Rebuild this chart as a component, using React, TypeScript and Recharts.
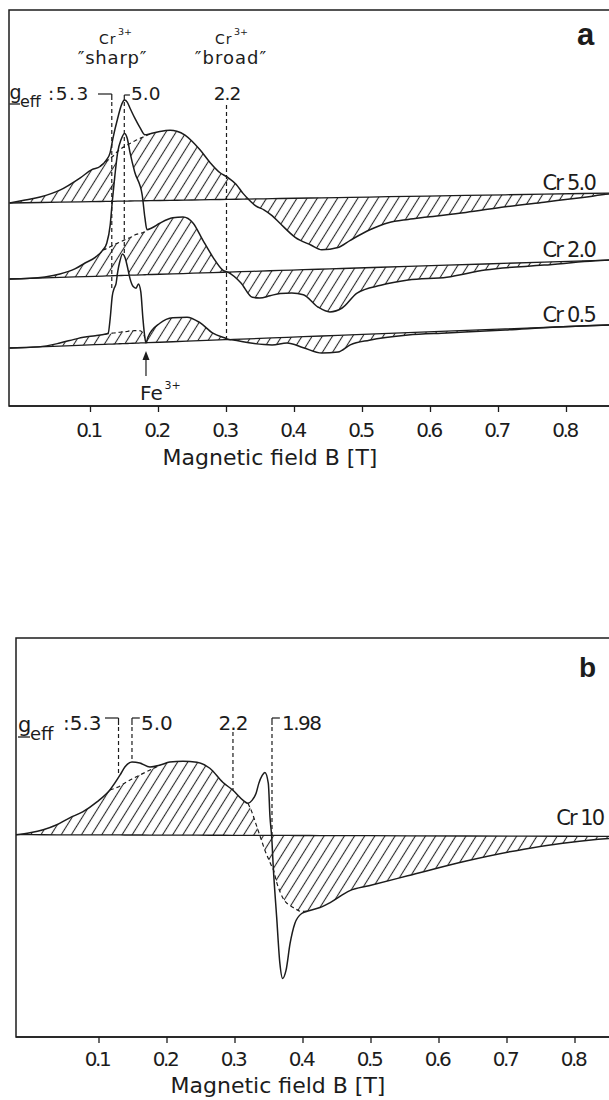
import React from 'react';
import {
  ComposedChart, Area, Line, XAxis, YAxis, ReferenceLine, ReferenceArea, ReferenceDot,
} from 'recharts';

// ---------- axis ----------
const fieldTicks = [0.1, 0.2, 0.3, 0.4, 0.5, 0.6, 0.7, 0.8];
const fieldTickLabels = ['0.1', '0.2', '0.3', '0.4', '0.5', '0.6', '0.7', '0.8'];

// ---------- panel a : Cr 5.0 ----------
const cr50Field = [-0.019, 0.004, 0.026, 0.055, 0.085, 0.102, 0.114, 0.123, 0.129, 0.133, 0.140, 0.146, 0.150, 0.154, 0.158, 0.165, 0.173, 0.180, 0.188, 0.202, 0.217, 0.227, 0.239, 0.249, 0.261, 0.276, 0.290, 0.302, 0.314, 0.324, 0.332, 0.343, 0.355, 0.367, 0.379, 0.401, 0.424, 0.440, 0.464, 0.482, 0.510, 0.538, 0.567, 0.595, 0.652, 0.710, 0.767, 0.824, 0.862, 0.900];
const cr50Signal = [0, 2.7, 5.5, 12, 24, 32, 35, 41, 49, 63, 83, 97, 101, 99, 93, 83, 73, 66, 67, 69, 70, 69, 65, 59, 50, 37, 27, 22, 15, 6, 0, -7, -11, -17, -25, -39, -47, -52, -50, -43, -33, -26, -23, -21, -17, -12, -8, -4, -1, 0];
const cr50BroadField = [0.123, 0.129, 0.133, 0.140, 0.146, 0.150, 0.154, 0.158, 0.165, 0.173, 0.180];
const cr50BroadSignal = [40, 43, 45, 50, 53, 54.5, 56, 57.5, 60, 62.5, 64.5];

// ---------- panel a : Cr 2.0 ----------
const cr20Field = [-0.019, 0.011, 0.033, 0.055, 0.077, 0.092, 0.107, 0.118, 0.124, 0.129, 0.132, 0.136, 0.140, 0.145, 0.150, 0.154, 0.158, 0.165, 0.176, 0.180, 0.183, 0.190, 0.202, 0.221, 0.236, 0.251, 0.265, 0.280, 0.295, 0.302, 0.321, 0.338, 0.349, 0.364, 0.379, 0.396, 0.413, 0.435, 0.452, 0.470, 0.492, 0.527, 0.567, 0.624, 0.680, 0.767, 0.862, 0.900];
const cr20Signal = [0, 0, 1, 3.4, 8, 13.6, 19, 26, 33, 51, 74, 101, 123.5, 136, 142, 137, 123, 103, 80, 57, 45, 46.5, 51, 56, 56.5, 50, 33, 15.5, 2, 0, -11, -26, -27, -25, -23, -23, -25, -38, -43, -39.5, -25, -18, -13.6, -12, -6, -3, 0, 0];
const cr20BroadField = [0.124, 0.129, 0.132, 0.136, 0.140, 0.145, 0.150, 0.154, 0.158, 0.165, 0.176, 0.180];
const cr20BroadSignal = [27.5, 29, 30, 31.5, 32.5, 34, 35.5, 36.5, 37.5, 40, 42, 43];

// ---------- panel a : Cr 0.5 ----------
const cr05Field = [-0.019, 0.024, 0.055, 0.082, 0.107, 0.121, 0.126, 0.129, 0.132, 0.135, 0.1375, 0.140, 0.143, 0.147, 0.151, 0.154, 0.158, 0.1625, 0.167, 0.1705, 0.174, 0.177, 0.180, 0.1816, 0.1846, 0.202, 0.221, 0.242, 0.261, 0.280, 0.298, 0.304, 0.310, 0.333, 0.367, 0.389, 0.413, 0.440, 0.464, 0.482, 0.510, 0.567, 0.624, 0.710, 0.795, 0.862, 0.900];
const cr05Signal = [0, 0, 3, 7, 9, 10, 11, 26, 48, 56, 60, 72, 82, 89.6, 85.5, 77.5, 65, 57, 55, 59, 51, 25, 5, 0, 5.7, 19, 24, 24, 18, 7, 1.7, 0, -0.6, -4, -7, -5.7, -11, -17, -16.6, -10, -6, -2.3, -1.8, -1, 0, 0, 0];
const cr05BroadField = [0.126, 0.129, 0.132, 0.135, 0.1375, 0.140, 0.143, 0.147, 0.151, 0.154, 0.158, 0.1625, 0.167, 0.1705, 0.174, 0.177];
const cr05BroadSignal = [10.5, 10.5, 11, 11, 11, 11.5, 11.5, 12, 12, 12, 12.5, 12.5, 12.5, 12.5, 12, 10];

// ---------- panel b : Cr 10 ----------
const cr10Field = [-0.022, -0.0015, 0.018, 0.038, 0.057, 0.076, 0.097, 0.116, 0.131, 0.138, 0.1485, 0.160, 0.175, 0.190, 0.204, 0.2235, 0.244, 0.263, 0.282, 0.297, 0.312, 0.319, 0.325, 0.331, 0.335, 0.340, 0.344, 0.349, 0.3515, 0.354, 0.3563, 0.3613, 0.366, 0.370, 0.375, 0.381, 0.388, 0.398, 0.410, 0.425, 0.440, 0.469, 0.497, 0.554, 0.640, 0.725, 0.782, 0.834, 0.850, 0.900];
const cr10Signal = [0, 2, 5, 10, 17, 23, 33, 45, 60, 68, 73, 72, 68, 70, 73, 74, 73, 67, 53, 45, 35, 32, 35, 42, 52, 60, 63, 52, 18, -2, -32, -82, -128, -143, -135, -108, -88, -78, -75, -72, -67, -55, -50, -40, -25, -13, -7, -3, -2, 0];
const cr10BroadField = [0.131, 0.138, 0.1485, 0.160, 0.175, 0.325, 0.331, 0.335, 0.340, 0.344, 0.349, 0.3515, 0.354, 0.3563, 0.3613, 0.366, 0.370, 0.375, 0.381, 0.388, 0.398];
const cr10BroadSignal = [49, 52, 56, 60, 65, 23, 11, 3, -7, -15, -23, -27, -31, -34, -47, -56, -62, -67, -70, -73, -76];

// g_eff marker fields
const gMarksA = [0.1313, 0.1497, 0.300];
const gMarksB = [0.1287, 0.1485, 0.297, 0.3544];
const feField = 0.1816;

// ---------- layout / style ----------
const INK = '#1c1c1c';
const FONT = "'DejaVu Sans', 'Open Sans', sans-serif";
const BOLD_FONT = "'Liberation Sans', Arial, sans-serif";

type Spec = {
  field: number[]; signal: number[]; broadField: number[]; broadSignal: number[];
  offset: number; tilt: number;
};

function build(s: Spec) {
  const bi = s.field.map((b) => s.broadField.findIndex((v) => Math.abs(v - b) < 1e-9));
  const seg = bi.map(() => -1);
  let k = -1;
  bi.forEach((v, i) => {
    if (v >= 0) {
      if (i === 0 || bi[i - 1] < 0) k += 1;
      seg[i] = k;
    }
  });
  const rows = s.field.map((B, i) => {
    const base = s.offset + s.tilt * B;
    const full = base + s.signal[i];
    const broad = base + (bi[i] >= 0 ? s.broadSignal[bi[i]] : s.signal[i]);
    const row: Record<string, any> = { B, base, full, hatch: [base, broad], white: [broad, full] };
    for (let j = 0; j <= k; j++) {
      if (seg[i] === j || seg[i - 1] === j || seg[i + 1] === j) row['d' + j] = broad;
    }
    return row;
  });
  return { rows, segs: k + 1 };
}

const sA1 = build({ field: cr50Field, signal: cr50Signal, broadField: cr50BroadField, broadSignal: cr50BroadSignal, offset: 203.2, tilt: 11.3 });
const sA2 = build({ field: cr20Field, signal: cr20Signal, broadField: cr20BroadField, broadSignal: cr20BroadSignal, offset: 127.4, tilt: 21.5 });
const sA3 = build({ field: cr05Field, signal: cr05Signal, broadField: cr05BroadField, broadSignal: cr05BroadSignal, offset: 58.5, tilt: 26.1 });
const sB1 = build({ field: cr10Field, signal: cr10Signal, broadField: cr10BroadField, broadSignal: cr10BroadSignal, offset: 202.3, tilt: -2 });

function areas(id: string, s: ReturnType<typeof build>, pat: string) {
  return [
    <Area key={id + 'w'} data={s.rows} dataKey="white" type="monotone" stroke="none" fill="#ffffff" fillOpacity={1} isAnimationActive={false} activeDot={false} />,
    <Area key={id + 'h'} data={s.rows} dataKey="hatch" type="monotone" stroke="none" fill={`url(#${pat})`} fillOpacity={1} isAnimationActive={false} activeDot={false} />,
  ];
}

function lines(id: string, s: ReturnType<typeof build>) {
  const out = [
    <Line key={id + 'b'} data={s.rows} dataKey="base" type="linear" stroke={INK} strokeWidth={1.3} dot={false} activeDot={false} isAnimationActive={false} />,
    <Line key={id + 'f'} data={s.rows} dataKey="full" type="monotone" stroke={INK} strokeWidth={1.5} dot={false} activeDot={false} isAnimationActive={false} />,
  ];
  for (let j = 0; j < s.segs; j++) {
    out.push(
      <Line key={id + 'd' + j} data={s.rows} dataKey={'d' + j} type="monotone" stroke={INK} strokeWidth={1.2} strokeDasharray="4 3" dot={false} activeDot={false} isAnimationActive={false} />,
    );
  }
  return out;
}

function seg(key: string, x1: number, y1: number, x2: number, y2: number, dashed = false) {
  return (
    <ReferenceLine key={key} segment={[{ x: x1, y: y1 }, { x: x2, y: y2 }]} stroke={INK} strokeWidth={1.2}
      strokeDasharray={dashed ? '4 3' : undefined} ifOverflow="visible" />
  );
}

const makeTick = (dy: number) => (props: any) => {
  const { x, y, payload } = props;
  const i = fieldTicks.indexOf(payload.value);
  return (
    <text x={x - 2} y={y + dy} textAnchor="middle" fontFamily={FONT} fontSize={20} letterSpacing={-2.5} fill={INK}>
      {i >= 0 ? fieldTickLabels[i] : ''}
    </text>
  );
};

const Hatch = ({ id }: { id: string }) => (
  <defs>
    <pattern id={id} patternUnits="userSpaceOnUse" width={8.6} height={8.6} patternTransform="rotate(32)">
      <line x1={4.3} y1={0} x2={4.3} y2={8.6} stroke="#2a2a2a" strokeWidth={1.1} />
    </pattern>
  </defs>
);

const A_MIN = -0.01985;
const B_MIN = -0.02206;
const X_MAX = 0.9;

function PanelA() {
  return (
    <ComposedChart width={640} height={480} margin={{ top: 10, right: 5.5, bottom: 44, left: 9 }}>
      <Hatch id="hatchA" />
      <XAxis type="number" dataKey="B" domain={[A_MIN, X_MAX]} allowDataOverflow ticks={fieldTicks} interval={0}
        tickSize={6} tickMargin={0} height={30} axisLine={{ stroke: INK, strokeWidth: 1.5 }}
        tickLine={{ stroke: INK, strokeWidth: 1.3 }} tick={makeTick(25)} />
      <YAxis hide type="number" domain={[0, 396]} allowDataOverflow />
      {areas('a1', sA1, 'hatchA')}
      {areas('a2', sA2, 'hatchA')}
      {areas('a3', sA3, 'hatchA')}
      {lines('a1', sA1)}
      {lines('a2', sA2)}
      {lines('a3', sA3)}
      <ReferenceArea x1={A_MIN} x2={X_MAX} y1={0} y2={396} fill="none" stroke={INK} strokeWidth={1.5} ifOverflow="visible" />
      {/* g = 5.3 hook */}
      {seg('h53a', 0.111, 312, gMarksA[0], 312)}
      {seg('h53b', gMarksA[0], 312, gMarksA[0], 306)}
      {seg('h53c', gMarksA[0], 304, gMarksA[0], 116, true)}
      {/* g = 5.0 bracket */}
      {seg('h50a', gMarksA[1], 306, gMarksA[1], 311)}
      {seg('h50b', gMarksA[1], 311, 0.158, 311)}
      {seg('h50c', gMarksA[1], 304, gMarksA[1], 151, true)}
      {/* g = 2.2 */}
      {seg('h22', gMarksA[2], 301, gMarksA[2], 68, true)}
      {/* Fe arrow */}
      {seg('fe', feField, 30, feField, 50)}
      <ReferenceDot x={feField} y={55} r={1} ifOverflow="visible"
        shape={(p: any) => <path d={`M${p.cx},${p.cy} l-3.5,9 l7,0 z`} fill={INK} />} />
    </ComposedChart>
  );
}

function PanelB() {
  return (
    <ComposedChart width={648} height={500} margin={{ top: 38, right: 5, bottom: 33, left: 16 }}>
      <Hatch id="hatchB" />
      <XAxis type="number" dataKey="B" domain={[B_MIN, X_MAX]} allowDataOverflow ticks={fieldTicks} interval={0}
        tickSize={6} tickMargin={0} height={30} axisLine={{ stroke: INK, strokeWidth: 1.5 }}
        tickLine={{ stroke: INK, strokeWidth: 1.3 }} tick={makeTick(23)} />
      <YAxis hide type="number" domain={[0, 399]} allowDataOverflow />
      {areas('b1', sB1, 'hatchB')}
      {lines('b1', sB1)}
      <ReferenceArea x1={B_MIN} x2={X_MAX} y1={0} y2={399} fill="none" stroke={INK} strokeWidth={1.5} ifOverflow="visible" />
      {seg('b53a', 0.1088, 319, gMarksB[0], 319)}
      {seg('b53b', gMarksB[0], 319, gMarksB[0], 312)}
      {seg('b53c', gMarksB[0], 310, gMarksB[0], 262, true)}
      {seg('b50a', gMarksB[1], 312, gMarksB[1], 319)}
      {seg('b50b', gMarksB[1], 319, 0.160, 319)}
      {seg('b50c', gMarksB[1], 310, gMarksB[1], 275, true)}
      {seg('b22', gMarksB[2], 305, gMarksB[2], 247, true)}
      {seg('b198a', gMarksB[3], 312, gMarksB[3], 319)}
      {seg('b198b', gMarksB[3], 319, 0.366, 319)}
      {seg('b198c', gMarksB[3], 310, gMarksB[3], 202, true)}
    </ComposedChart>
  );
}

const Txt = (p: { x: number; y: number; s: number; a?: 'start' | 'middle' | 'end'; ls?: number; w?: string; f?: string; children: React.ReactNode }) => (
  <text x={p.x} y={p.y} fontSize={p.s} textAnchor={p.a || 'start'} letterSpacing={p.ls || 0}
    fontWeight={p.w || 'normal'} fontFamily={p.f || FONT} fill={INK}>{p.children}</text>
);

function Labels() {
  return (
    <svg width={609} height={1100} style={{ position: 'absolute', left: 0, top: 0, pointerEvents: 'none' }}>
      {/* panel a */}
      <Txt x={585.5} y={45} s={31} a="middle" w="bold" f={BOLD_FONT}>a</Txt>
      <Txt x={99} y={44} s={14} ls={1}>Cr</Txt>
      <Txt x={118} y={35} s={9.5}>3+</Txt>
      <Txt x={112.5} y={64} s={18} a="middle" ls={0.8}>{'\u2033sharp\u2033'}</Txt>
      <Txt x={215} y={44} s={14} ls={1}>Cr</Txt>
      <Txt x={234} y={35} s={9.5}>3+</Txt>
      <Txt x={231} y={64} s={18} a="middle" ls={1}>{'\u2033broad\u2033'}</Txt>
      <Txt x={9.5} y={99} s={19}>g</Txt>
      <line x1={9.5} y1={104} x2={20} y2={104} stroke={INK} strokeWidth={1.3} />
      <Txt x={20} y={107} s={16}>eff</Txt>
      <Txt x={48} y={100} s={18.5} ls={1.5}>:5.3</Txt>
      <Txt x={131} y={100} s={18.5}>5.0</Txt>
      <Txt x={227} y={100} s={18.5} a="middle" ls={-1}>2.2</Txt>
      <Txt x={595} y={190} s={21} a="end" ls={-1.8}>Cr 5.0</Txt>
      <Txt x={595} y={257} s={21} a="end" ls={-1.8}>Cr 2.0</Txt>
      <Txt x={595} y={322} s={21} a="end" ls={-1.8}>Cr 0.5</Txt>
      <Txt x={140} y={400} s={20}>Fe</Txt>
      <Txt x={164.5} y={389} s={11}>3+</Txt>
      <Txt x={270} y={465} s={22} a="middle">Magnetic field B [T]</Txt>
      {/* panel b */}
      <Txt x={587.5} y={677} s={28} a="middle" w="bold" f={BOLD_FONT}>b</Txt>
      <Txt x={18} y={732} s={21}>g</Txt>
      <line x1={18} y1={737} x2={30} y2={737} stroke={INK} strokeWidth={1.3} />
      <Txt x={30} y={740} s={18}>eff</Txt>
      <Txt x={63} y={730} s={20}>:5.3</Txt>
      <Txt x={141} y={730} s={20}>5.0</Txt>
      <Txt x={233} y={730} s={20} a="middle" ls={-1}>2.2</Txt>
      <Txt x={282} y={730} s={20} ls={-1.5}>1.98</Txt>
      <Txt x={603} y={825} s={21} a="end" ls={-2}>Cr 10</Txt>
      <Txt x={278} y={1093} s={22} a="middle">Magnetic field B [T]</Txt>
    </svg>
  );
}

export default function App() {
  return (
    <div style={{ position: 'fixed', left: 0, top: 0, width: 609, height: 1100, overflow: 'hidden', background: '#fff' }}>
      <div style={{ position: 'absolute', left: 0, top: 0 }}>
        <PanelA />
      </div>
      <div style={{ position: 'absolute', left: 0, top: 600 }}>
        <PanelB />
      </div>
      <Labels />
    </div>
  );
}
